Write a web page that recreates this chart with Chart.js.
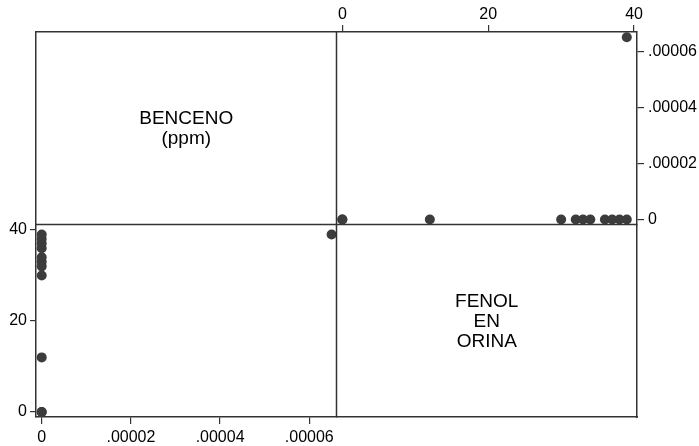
<!DOCTYPE html>
<html>
<head>
<meta charset="utf-8">
<script src="https://cdn.jsdelivr.net/npm/chart.js@4"></script>
<style>
  html, body { margin: 0; padding: 0; background: #fff; }
  #wrap { width: 699px; height: 446px; position: relative; }
</style>
</head>
<body>
<div id="wrap"><canvas id="matrix"></canvas></div>
<script>
// ===========================
// DATA (read off the scatter matrix)
// ===========================
const fenol   = [0, 0, 12, 30, 32, 33, 34, 36, 37, 38, 39, 39];
const benceno = [0, 0, 0, 0, 0, 0, 0, 0, 0, 0, 0, 0.000065];

const fenolTicks = [0, 20, 40];
const fenolTickLabels = ['0', '20', '40'];
const bencenoTicks = [0, 0.00002, 0.00004, 0.00006];
const bencenoTickLabels = ['0', '.00002', '.00004', '.00006'];

const cellLabelTop = ['BENCENO', '(ppm)'];
const cellLabelBottom = ['FENOL', 'EN', 'ORINA'];

// ===========================
// STYLE
// ===========================
const FONT = 'Liberation Sans, Arial, sans-serif';
const LINE = '#333333';
const DOT = '#3c3c3c';
const tickFont = { family: FONT, size: 16 };

// axis with real ticks
function valueAxis(pos, min, max, ticks, labels, size, tl, pad) {
  return {
    type: 'linear',
    position: pos,
    stack: pos,
    stackWeight: 1,
    min: min,
    max: max,
    afterBuildTicks: s => { s.ticks = ticks.map(v => ({ value: v })); },
    afterFit: s => {
      if (pos === 'top' || pos === 'bottom') s.height = size; else s.width = size;
    },
    ticks: {
      color: '#000',
      font: tickFont,
      padding: pad,
      maxRotation: 0,
      autoSkip: false,
      callback: (v, i) => labels[i]
    },
    grid: { drawOnChartArea: false, drawTicks: true, tickLength: tl, color: LINE, lineWidth: 1.2 },
    border: { display: true, color: LINE, width: 1.5 }
  };
}

// empty half of a stacked axis (only draws the box edge)
function emptyAxis(pos, size) {
  return {
    type: 'linear',
    position: pos,
    stack: pos,
    stackWeight: 1,
    min: 0,
    max: 1,
    afterFit: s => {
      if (pos === 'top' || pos === 'bottom') s.height = size; else s.width = size;
    },
    ticks: { display: false },
    grid: { display: false },
    border: { display: true, color: LINE, width: 1.5 }
  };
}

// inner cross lines + diagonal cell labels
const matrixPlugin = {
  id: 'matrixCells',
  afterDraw(chart) {
    const { ctx, chartArea, scales } = chart;
    const midX = scales.xBL.right;
    const midY = scales.yTR.bottom;
    ctx.save();
    ctx.strokeStyle = LINE;
    ctx.lineWidth = 1.5;
    ctx.beginPath();
    ctx.moveTo(midX, chartArea.top);
    ctx.lineTo(midX, chartArea.bottom);
    ctx.moveTo(chartArea.left, midY);
    ctx.lineTo(chartArea.right, midY);
    ctx.stroke();

    ctx.fillStyle = '#000';
    ctx.font = '19px ' + FONT;
    ctx.textAlign = 'center';
    ctx.textBaseline = 'middle';
    const lh = 20;
    const drawBlock = (lines, cx, cy) => {
      const y0 = cy - (lines.length - 1) * lh / 2;
      lines.forEach((t, i) => ctx.fillText(t, cx, y0 + i * lh));
    };
    drawBlock(cellLabelTop, (chartArea.left + midX) / 2, (chartArea.top + midY) / 2 + 1);
    drawBlock(cellLabelBottom, (midX + chartArea.right) / 2, (midY + chartArea.bottom) / 2 + 1.5);
    ctx.restore();
  }
};

const ctx = document.getElementById('matrix').getContext('2d');

new Chart(ctx, {
  type: 'scatter',
  data: {
    datasets: [{
      label: 'benceno vs fenol',
      data: fenol.map((f, i) => ({ x: benceno[i], y: f })),
      xAxisID: 'xBL',
      yAxisID: 'yBL',
      backgroundColor: DOT,
      borderColor: DOT,
      pointRadius: 5,
      borderWidth: 0
    }, {
      label: 'fenol vs benceno',
      data: fenol.map((f, i) => ({ x: f, y: benceno[i] })),
      xAxisID: 'xTR',
      yAxisID: 'yTR',
      backgroundColor: DOT,
      borderColor: DOT,
      pointRadius: 5,
      borderWidth: 0
    }]
  },
  options: {
    responsive: true,
    maintainAspectRatio: false,
    animation: false,
    layout: { padding: 0 },
    plugins: {
      legend: { display: false },
      tooltip: { enabled: false }
    },
    scales: {
      // bottom: left half first
      xBL: valueAxis('bottom', -0.00000128, 0.0000661, bencenoTicks, bencenoTickLabels, 29, 7, 4),
      xBR: emptyAxis('bottom', 29),
      // right: top half first
      yTR: valueAxis('right', -0.00000179, 0.0000669, bencenoTicks, bencenoTickLabels, 62, 7, 4),
      yBR: emptyAxis('right', 62),
      // top / left are placed in reverse order
      xTR: valueAxis('top', -0.8, 40.4, fenolTicks, fenolTickLabels, 32, 7, 1),
      xTL: emptyAxis('top', 32),
      yBL: valueAxis('left', -1.1, 41.2, fenolTicks, fenolTickLabels, 36, 6, 3),
      yTL: emptyAxis('left', 36)
    }
  },
  plugins: [matrixPlugin]
});
</script>
</body>
</html>
